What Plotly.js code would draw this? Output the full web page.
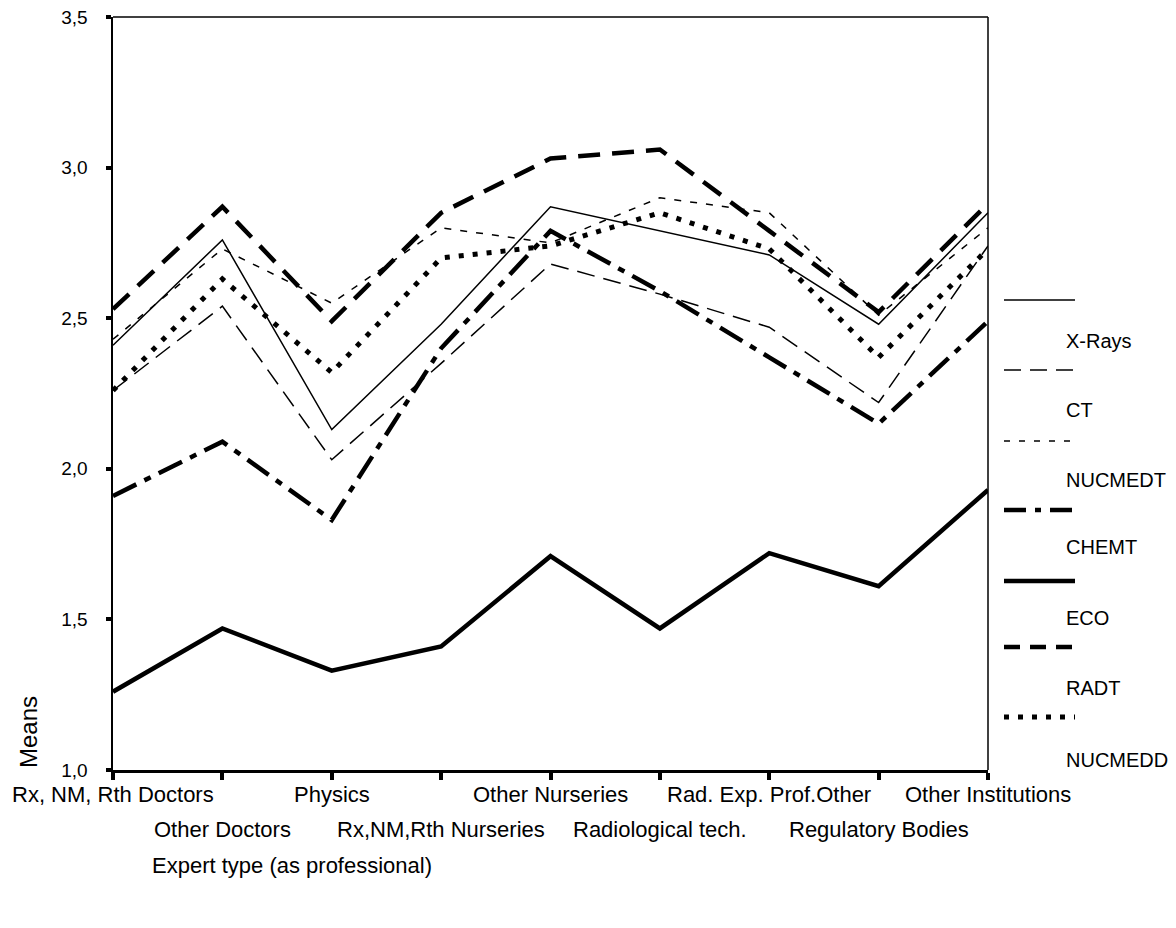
<!DOCTYPE html>
<html>
<head>
<meta charset="utf-8">
<script src="https://cdn.plot.ly/plotly-3.0.1.min.js"></script>
<style>
html,body{margin:0;padding:0;background:#fff;}
#chart{width:1176px;height:928px;}
</style>
</head>
<body>
<div id="chart"></div>
<script>
const categories = ["Rx, NM, Rth Doctors","Other Doctors","Physics","Rx,NM,Rth Nurseries","Other Nurseries","Radiological tech.","Rad. Exp. Prof.Other","Regulatory Bodies","Other Institutions"];
const seriesNames = ["X-Rays","CT","NUCMEDT","CHEMT","ECO","RADT","NUCMEDD"];
const xrays   = [2.41, 2.76, 2.13, 2.48, 2.87, 2.79, 2.71, 2.48, 2.85];
const ct      = [2.26, 2.54, 2.03, 2.35, 2.68, 2.58, 2.47, 2.22, 2.74];
const nucmedt = [2.43, 2.73, 2.55, 2.80, 2.75, 2.90, 2.85, 2.51, 2.80];
const chemt   = [1.91, 2.09, 1.83, 2.40, 2.79, 2.59, 2.37, 2.15, 2.49];
const eco     = [1.26, 1.47, 1.33, 1.41, 1.71, 1.47, 1.72, 1.61, 1.93];
const radt    = [2.53, 2.87, 2.49, 2.85, 3.03, 3.06, 2.79, 2.52, 2.88];
const nucmedd = [2.26, 2.63, 2.32, 2.70, 2.74, 2.85, 2.73, 2.37, 2.73];
const yTicks  = [1.0, 1.5, 2.0, 2.5, 3.0, 3.5];
const xTitle = "Expert type (as professional)";
const yTitle = "Means";

const values = [xrays, ct, nucmedt, chemt, eco, radt, nucmedd];
const styles = [
  {width:1.5, dash:"solid"},
  {width:1.5, dash:"18px,9px"},
  {width:1.5, dash:"7px,9px"},
  {width:4.5, dash:"26px,9px,7px,9px"},
  {width:4.5, dash:"solid"},
  {width:4.5, dash:"22px,12px"},
  {width:5,   dash:"5px,9px"}
];
const legendStyles = [
  {width:1.5, dash:"solid"},
  {width:1.5, dash:"17px,9px"},
  {width:1.5, dash:"6px,9px"},
  {width:4.5, dash:"22px,9px,6px,9px"},
  {width:4.5, dash:"solid"},
  {width:4.5, dash:"16px,10px"},
  {width:5,   dash:"5px,9px"}
];

const FONT = "Liberation Sans, Arial, sans-serif";
const traces = values.map((v, i) => ({
  x: categories, y: v, name: seriesNames[i], type: "scatter", mode: "lines",
  line: {color: "#000", width: styles[i].width, dash: styles[i].dash},
  showlegend: false, hoverinfo: "skip"
}));

// plot area geometry (pixels)
const L = 113, R = 988, T = 17, B = 770;
const px = x => (x - L) / (R - L);
const py = y => (B - y) / (B - T);

const shapes = [
  {type:"line", xref:"paper", yref:"paper", x0:0, x1:1, y0:1, y1:1, line:{color:"#000", width:1.5}},
  {type:"line", xref:"paper", yref:"paper", x0:1, x1:1, y0:0, y1:1, line:{color:"#000", width:1.5}}
];
const annotations = [];
const legY = [300, 370, 441, 510, 581, 647, 717];
const labY = [341, 410, 480, 547, 618, 688, 760];
seriesNames.forEach((n, i) => {
  shapes.push({type:"line", xref:"paper", yref:"paper", x0:px(1004), x1:px(1075), y0:py(legY[i]), y1:py(legY[i]),
    line:{color:"#000", width:legendStyles[i].width, dash:legendStyles[i].dash}});
  annotations.push({xref:"paper", yref:"paper", x:px(1064), y:py(labY[i]), xanchor:"left", yanchor:"middle",
    text:n, showarrow:false, font:{family:FONT, size:20, color:"#000"}});
});
categories.forEach((c, i) => {
  annotations.push({xref:"x", yref:"paper", x:c, y:0, xanchor:"center", yanchor:"top",
    yshift: i % 2 === 0 ? -10 : -45, text:c, showarrow:false, font:{family:FONT, size:22, color:"#000"}});
});
annotations.push({xref:"paper", yref:"paper", x:px(150), y:py(866), xanchor:"left", yanchor:"middle",
  text:xTitle, showarrow:false, font:{family:FONT, size:22, color:"#000"}});
annotations.push({xref:"paper", yref:"paper", x:px(28), y:0, xanchor:"center", yanchor:"bottom",
  text:yTitle, textangle:-90, showarrow:false, font:{family:FONT, size:24, color:"#000"}});

const layout = {
  width:1176, height:928,
  margin:{l:L, r:1176-R, t:T, b:928-B},
  paper_bgcolor:"#fff", plot_bgcolor:"#fff",
  separators:", ",
  font:{family:FONT, size:18, color:"#000"},
  xaxis:{type:"category", range:[0, categories.length-1], showgrid:false, zeroline:false,
    showline:true, linecolor:"#000", linewidth:2.5,
    ticks:"outside", ticklen:7, tickwidth:4, tickcolor:"#000", showticklabels:false},
  yaxis:{range:[1, 3.5], tickvals:yTicks, tickformat:".1f", showgrid:false, zeroline:false,
    showline:true, linecolor:"#000", linewidth:2.5,
    ticks:"outside", ticklen:5, tickwidth:4, tickcolor:"#000", ticklabelstandoff:14,
    tickfont:{family:FONT, size:19, color:"#000"}},
  shapes:shapes, annotations:annotations
};
Plotly.newPlot("chart", traces, layout, {staticPlot:true, displayModeBar:false});
</script>
</body>
</html>
